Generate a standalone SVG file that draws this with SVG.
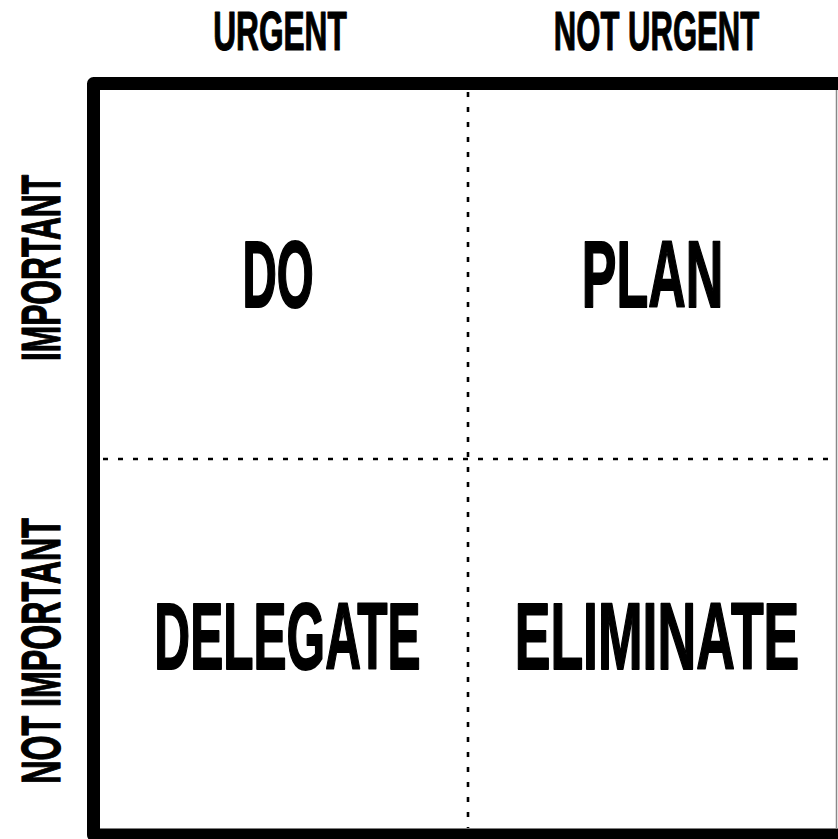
<svg xmlns="http://www.w3.org/2000/svg" width="838" height="839" viewBox="0 0 838 839">
<style>
  .lbl { font-family: "Liberation Sans", Arial, sans-serif; font-weight: bold; fill: #000; text-anchor: middle; stroke: #000; stroke-linejoin: round; }
  .axis { font-size: 55px; stroke-width: 1.2; }
  .quad { font-size: 95px; stroke-width: 2; }
  .dots { stroke: #000; stroke-width: 2.6; stroke-dasharray: 5 10; fill: none; }
</style>
<rect width="838" height="839" fill="#fff"/>
<g id="frame">
  <path d="M 845 83.5 H 93.5 V 835 H 845" fill="none" stroke="#000" stroke-width="13" stroke-linejoin="round"/>
  <line x1="836.5" y1="90" x2="836.5" y2="829" stroke="#888" stroke-width="1.5"/>
</g>
<g id="connectors">
  <line class="dots" x1="468" y1="92" x2="468" y2="828"/>
  <line class="dots" x1="103" y1="459" x2="836" y2="459"/>
</g>
<g id="col-urgent"><text class="lbl axis" transform="translate(280,49.5) scale(0.575,1)">URGENT</text></g>
<g id="col-not-urgent"><text class="lbl axis" transform="translate(656.5,49.5) scale(0.565,1)">NOT URGENT</text></g>
<g id="row-important"><text class="lbl axis" transform="translate(60,268) rotate(-90) scale(0.577,1)">IMPORTANT</text></g>
<g id="row-not-important"><text class="lbl axis" transform="translate(60,651) rotate(-90) scale(0.585,1)">NOT IMPORTANT</text></g>
<g id="q-do"><text class="lbl quad" transform="translate(278,307) scale(0.5,1)">DO</text></g>
<g id="q-plan"><text class="lbl quad" transform="translate(652.5,307) scale(0.547,1)">PLAN</text></g>
<g id="q-delegate"><text class="lbl quad" transform="translate(287.5,669) scale(0.522,1)">DELEGATE</text></g>
<g id="q-eliminate"><text class="lbl quad" transform="translate(657,669) scale(0.564,1)">ELIMINATE</text></g>
</svg>
